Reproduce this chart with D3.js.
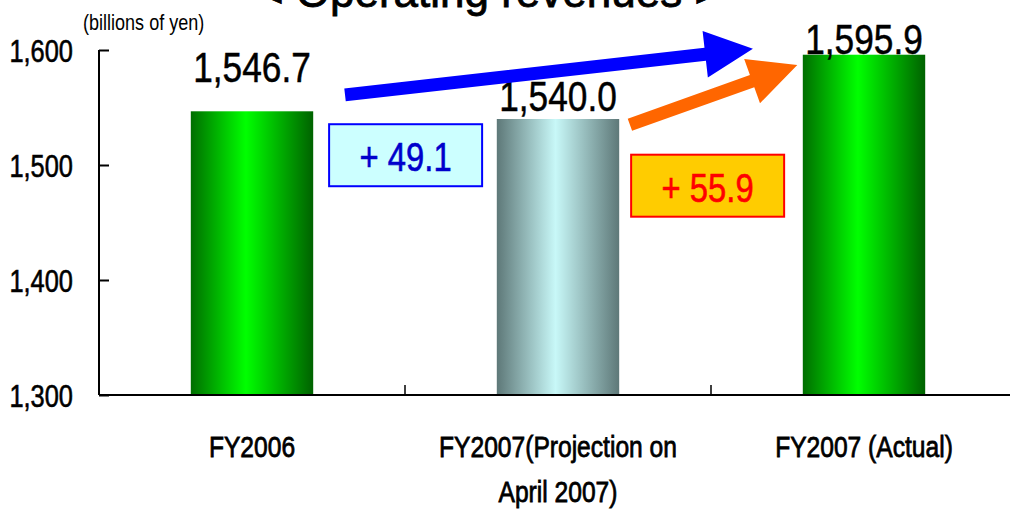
<!DOCTYPE html>
<html>
<head>
<meta charset="utf-8">
<script src="https://cdn.jsdelivr.net/npm/d3@7"></script>
<style>
  body { margin: 0; background: #fff; }
  svg { display: block; }
  text { font-family: "Liberation Sans", Arial, sans-serif; }
</style>
</head>
<body>
<svg id="chart" width="1010" height="509"></svg>
<script>
// chart data
var categories = ["FY2006", "FY2007(Projection on April 2007)", "FY2007 (Actual)"];
var categoryLines = [["FY2006"], ["FY2007(Projection on", "April 2007)"], ["FY2007 (Actual)"]];
var values = [1546.7, 1540.0, 1595.9];
var yTicks = [1300, 1400, 1500, 1600];
var diffLabels = ["+ 49.1", "+ 55.9"];

// annotation anchors, in category units (0..2) and yen values
var arrows = [
    { from: [0.304, 1561], to: [1.637, 1601], color: "#0000ff" },
    { from: [1.235, 1535], to: [1.782, 1587], color: "#ff6600" }
];
var boxes = [
    { at: [0.502, 1508.5], fill: "#ccffff", stroke: "#0000ff", text: "#0000cc" },
    { at: [1.489, 1482], fill: "#ffcc00", stroke: "#ff0000", text: "#ff0000" }
];

var svg = d3.select("#chart");
var plotLeft = 99, plotRight = 1017, plotTop = 50, plotBottom = 395;
var narrow = 0.82; // squeeze Liberation Sans to look like Arial Narrow

var x = d3.scaleBand()
    .domain(categories)
    .range([plotLeft, plotRight])
    .paddingInner(0.6)
    .paddingOuter(0.3);

var y = d3.scaleLinear()
    .domain([1300, 1600])
    .range([plotBottom, plotTop]);

// category units -> px (centre of each band)
var xc = d3.scaleLinear()
    .domain([0, categories.length - 1])
    .range([x(categories[0]) + x.bandwidth() / 2, x(categories[categories.length - 1]) + x.bandwidth() / 2]);

function place(px, py) {
    return "translate(" + px + "," + py + ") scale(" + narrow + ",1)";
}
// the reference text is a bit heavier than plain Liberation Sans
function heavy(sel, w) {
    sel.attr("stroke", function () { return d3.select(this).attr("fill") || "#000"; })
        .attr("stroke-width", w)
        .attr("paint-order", "stroke");
}

//Gradients
var defs = svg.append("defs");
function addGradient(id, edgeL, mid, edgeR, midAt) {
    var g = defs.append("linearGradient").attr("id", id)
        .attr("x1", 0).attr("x2", 1).attr("y1", 0).attr("y2", 0);
    g.append("stop").attr("offset", 0).attr("stop-color", edgeL);
    g.append("stop").attr("offset", midAt).attr("stop-color", mid);
    g.append("stop").attr("offset", 1).attr("stop-color", edgeR);
}
addGradient("gGreen", "#006e00", "#00ff00", "#006200", 0.45);
addGradient("gGrey", "#5e7878", "#c8f8f8", "#5e7878", 0.48);
var fills = ["url(#gGreen)", "url(#gGrey)", "url(#gGreen)"];

//Title and unit
svg.append("text")
    .attr("x", 489).attr("y", 7)
    .attr("text-anchor", "middle")
    .attr("fill", "#000")
    .style("font-size", "44px")
    .text("< Operating revenues >")
    .call(heavy, 0.8);

svg.append("text")
    .attr("transform", place(83, 30))
    .attr("fill", "#000")
    .style("font-size", "22px")
    .text("(billions of yen)");

//Bars
svg.selectAll("rect.bar")
    .data(values)
    .enter().append("rect")
    .attr("class", "bar")
    .attr("x", function (d, i) { return x(categories[i]); })
    .attr("width", x.bandwidth())
    .attr("y", function (d) { return y(d); })
    .attr("height", function (d) { return y(1300) - y(d); })
    .attr("fill", function (d, i) { return fills[i]; });

//Value labels (placed by hand in the original, so the gaps differ)
var labelGap = [29, 8, 1];
svg.selectAll("text.val")
    .data(values)
    .enter().append("text")
    .attr("class", "val")
    .attr("transform", function (d, i) {
        return place(x(categories[i]) + x.bandwidth() / 2, y(d) - labelGap[i]);
    })
    .attr("text-anchor", "middle")
    .attr("fill", "#000")
    .style("font-size", "43px")
    .text(function (d) { return d3.format(",.1f")(d); })
    .call(heavy, 0.5);

//Axes
var yAxis = d3.axisLeft(y).tickValues(yTicks).tickSize(-10).tickFormat(d3.format(","));
var gy = svg.append("g").attr("transform", "translate(" + plotLeft + ",0)").call(yAxis);
gy.select(".domain").attr("stroke-width", 2).attr("d", "M0," + plotTop + "V" + plotBottom);
gy.selectAll(".tick line").attr("stroke-width", 2);
gy.selectAll(".tick text")
    .attr("x", null).attr("dy", null)
    .attr("transform", place(-26, 11))
    .attr("fill", "#000")
    .style("font-size", "31px")
    .style("font-family", "Liberation Sans, Arial, sans-serif")
    .call(heavy, 0.6);

svg.append("line")
    .attr("x1", plotLeft).attr("x2", 1010)
    .attr("y1", y(1300)).attr("y2", y(1300))
    .attr("stroke", "#000").attr("stroke-width", 2);

var step = x.step();
svg.selectAll("line.xtick")
    .data(categories.slice(1))
    .enter().append("line")
    .attr("class", "xtick")
    .attr("x1", function (d) { return x(d) - step * x.paddingInner() / 2; })
    .attr("x2", function (d) { return x(d) - step * x.paddingInner() / 2; })
    .attr("y1", y(1300)).attr("y2", y(1300) - 10)
    .attr("stroke", "#000").attr("stroke-width", 1.5);

var catText = svg.selectAll("text.cat")
    .data(categoryLines)
    .enter().append("text")
    .attr("class", "cat")
    .attr("transform", function (d, i) { return place(x(categories[i]) + x.bandwidth() / 2, 457); })
    .attr("text-anchor", "middle")
    .attr("fill", "#000")
    .style("font-size", "30px")
    .call(heavy, 0.8);
catText.selectAll("tspan")
    .data(function (d) { return d; })
    .enter().append("tspan")
    .attr("x", 0)
    .attr("y", function (d, j) { return j * 45; })
    .text(function (d) { return d; });

//Arrows
function arrowPath(a) {
    var x0 = xc(a.from[0]), y0 = y(a.from[1]);
    var x1 = xc(a.to[0]), y1 = y(a.to[1]);
    var dx = x1 - x0, dy = y1 - y0, len = Math.sqrt(dx * dx + dy * dy);
    var ux = dx / len, uy = dy / len, nx = -uy, ny = ux;
    var shaft = 6.5, head = 23.5, headLen = 48;
    var bx = x1 - ux * headLen, by = y1 - uy * headLen;
    var pts = [
        [x0 + nx * shaft, y0 + ny * shaft],
        [bx + nx * shaft, by + ny * shaft],
        [bx + nx * head, by + ny * head],
        [x1, y1],
        [bx - nx * head, by - ny * head],
        [bx - nx * shaft, by - ny * shaft],
        [x0 - nx * shaft, y0 - ny * shaft]
    ];
    return "M" + pts.map(function (p) { return p.join(","); }).join("L") + "Z";
}
svg.selectAll("path.arrow")
    .data(arrows)
    .enter().append("path")
    .attr("class", "arrow")
    .attr("d", arrowPath)
    .attr("fill", function (d) { return d.color; });

//Difference boxes
var boxW = 153, boxH = 62;
var box = svg.selectAll("g.box")
    .data(boxes)
    .enter().append("g")
    .attr("class", "box")
    .attr("transform", function (d) { return "translate(" + xc(d.at[0]) + "," + y(d.at[1]) + ")"; });
box.append("rect")
    .attr("x", -boxW / 2).attr("y", -boxH / 2)
    .attr("width", boxW).attr("height", boxH)
    .attr("fill", function (d) { return d.fill; })
    .attr("stroke", function (d) { return d.stroke; })
    .attr("stroke-width", 2);
box.append("text")
    .attr("text-anchor", "middle")
    .attr("transform", place(0, 16))
    .style("font-size", "40px")
    .attr("fill", function (d) { return d.text; })
    .text(function (d, i) { return diffLabels[i]; })
    .call(heavy, 0.6);
</script>
</body>
</html>
